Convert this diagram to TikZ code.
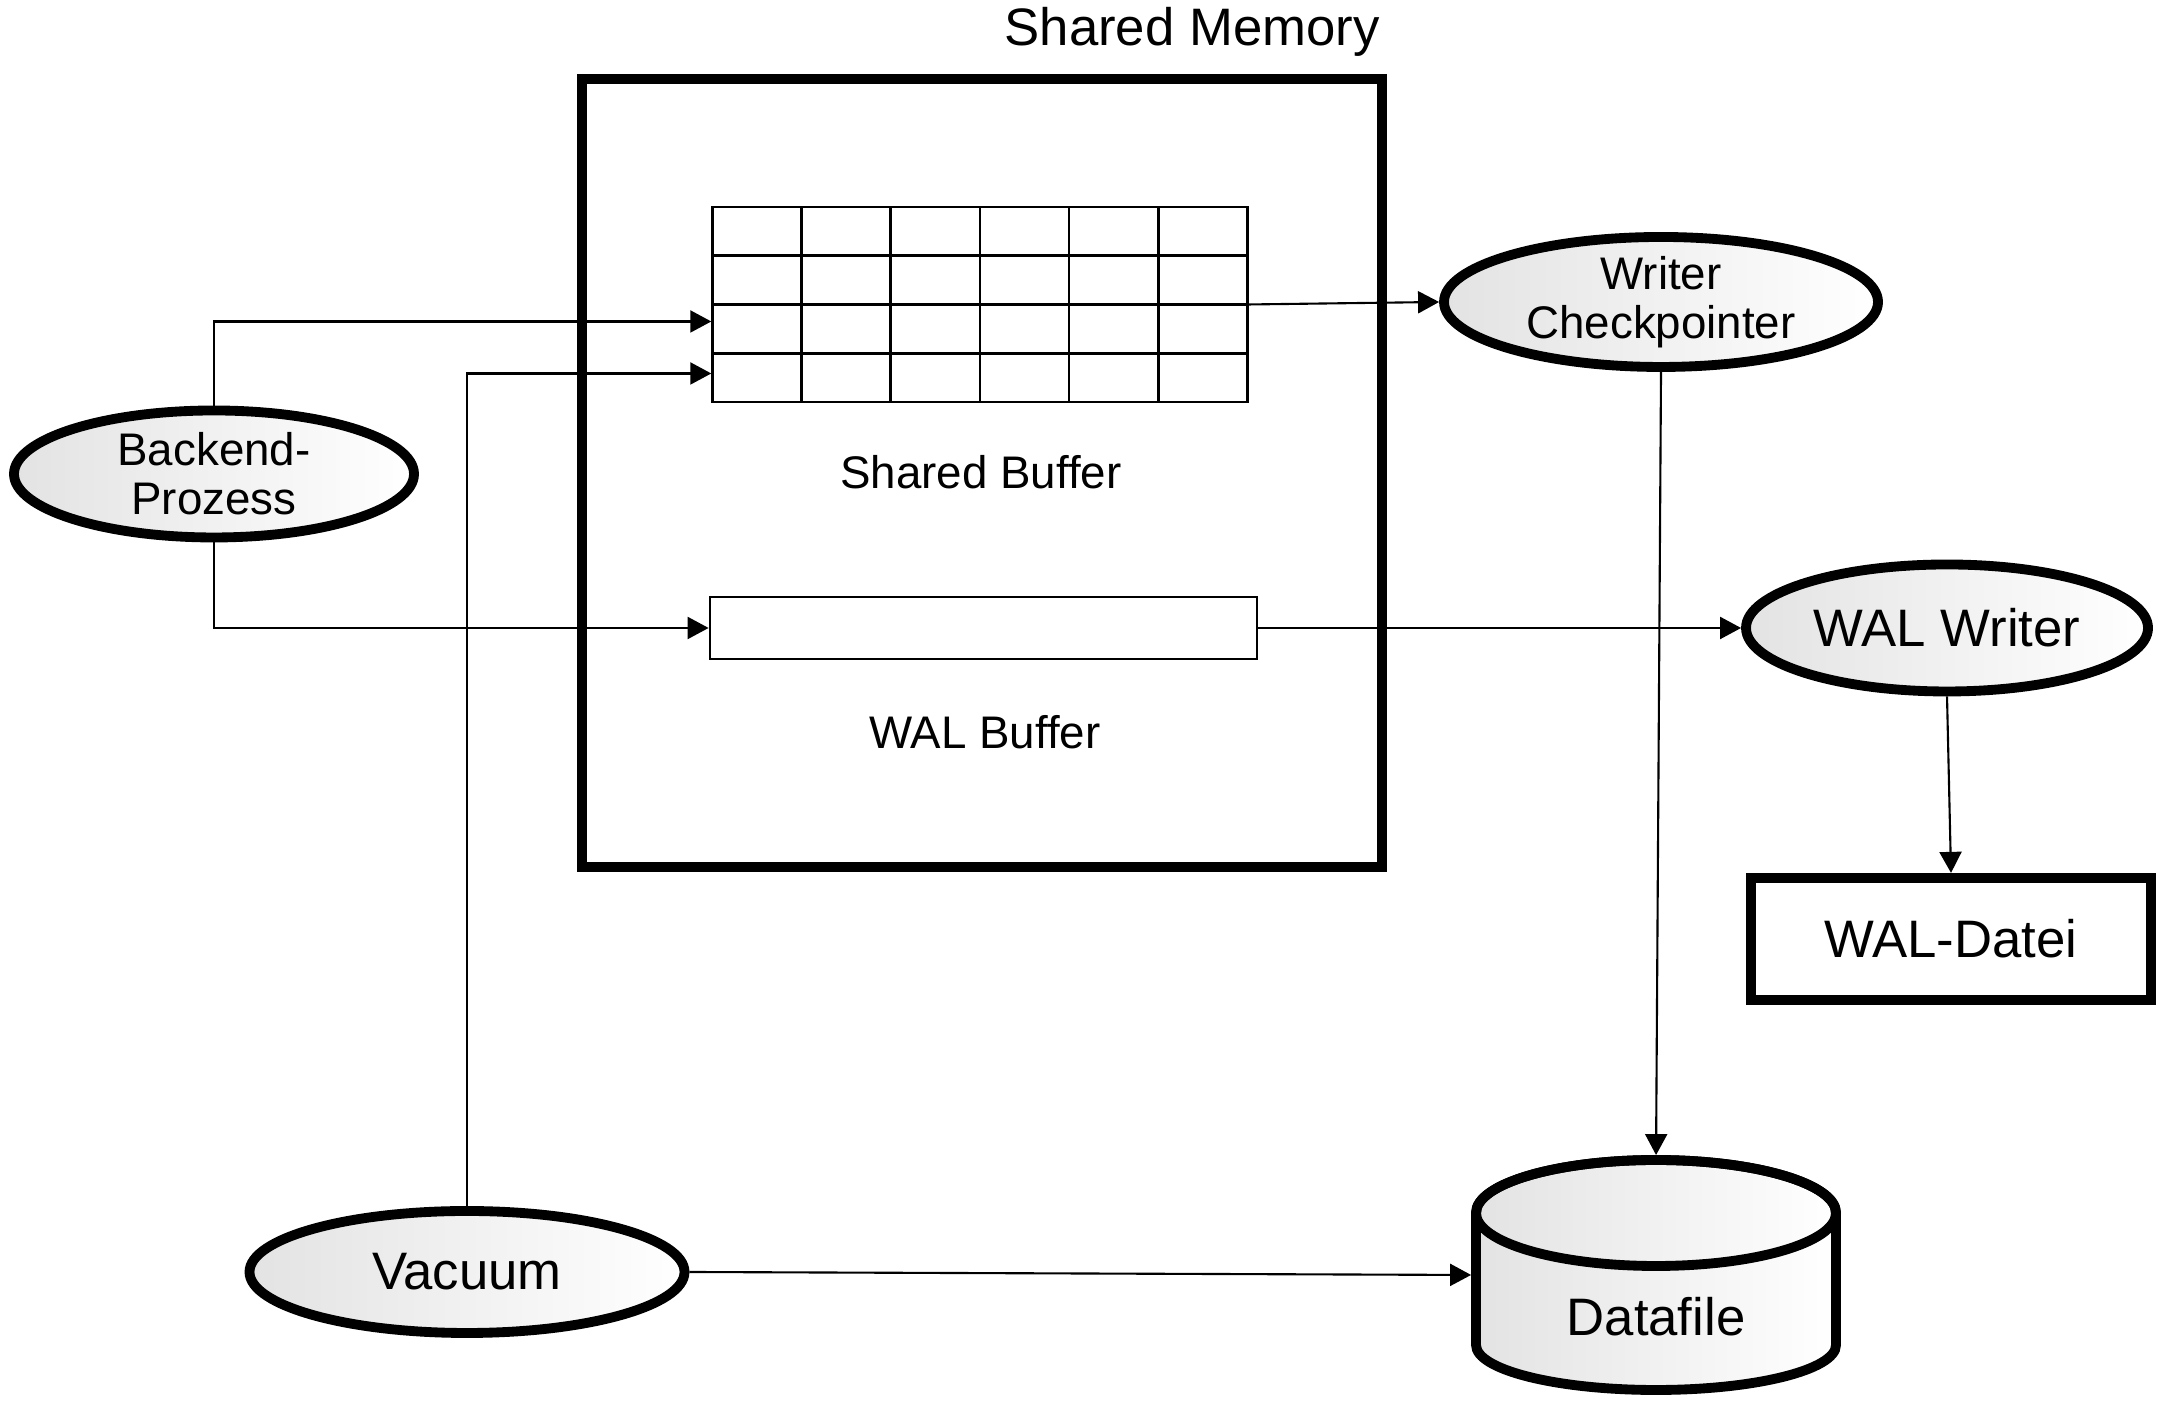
\documentclass[tikz,border=0pt]{standalone}
\usepackage{fontspec}
\setmainfont{Liberation Sans}
\usetikzlibrary{shapes.geometric,arrows.meta}
\begin{document}
\begin{tikzpicture}[
    proc/.style={ellipse, draw, line width=2.8pt, left color=gray!22, right color=white, inner sep=0pt, align=center},
    bigtext/.style={font=\fontsize{15}{17}\selectfont},
    smalltext/.style={font=\fontsize{13}{14}\selectfont},
    flow/.style={-{Triangle[length=2.1mm,width=2.2mm]}, line width=0.6pt}
  ]
  \useasboundingbox (0,0) rectangle (21.6,14.04);
  \draw
    (9.82,9.31) node (shm) [draw, line width=2.9pt, minimum width=8.0cm, minimum height=7.88cm] {}
    (13.92,13.58) node (shmtitle) [anchor=base east, bigtext] {Shared Memory}
    (9.80,10.995) node (sbuf) [draw, line width=0.8pt, minimum width=5.346cm, minimum height=1.95cm] {}
    (9.81,9.32) node (sbuftitle) [smalltext] {Shared Buffer}
    (9.835,7.76) node (walbuf) [draw, line width=0.8pt, minimum width=5.47cm, minimum height=0.62cm] {}
    (9.85,6.72) node (walbuftitle) [smalltext] {WAL Buffer}
    (2.14,9.30) node (backend) [proc, smalltext, minimum width=4.0cm, minimum height=1.27cm] {Backend-\\Prozess}
    (16.61,11.02) node (writer) [proc, smalltext, minimum width=4.34cm, minimum height=1.30cm] {Writer\\Checkpointer}
    (19.47,7.76) node (walwriter) [proc, bigtext, minimum width=4.02cm, minimum height=1.27cm] {WAL Writer}
    (19.51,4.65) node (walfile) [draw, line width=2.9pt, bigtext, minimum width=4.0cm, minimum height=1.22cm] {WAL-Datei}
    (4.67,1.32) node (vacuum) [proc, bigtext, minimum width=4.35cm, minimum height=1.22cm] {Vacuum}
    (16.56,1.29) node (datafile) [inner sep=0pt, outer sep=0pt, minimum width=3.6cm, minimum height=2.30cm] {};
  % the datafile drum
  \path[draw, line width=2.8pt, left color=gray!22, right color=white]
    ([yshift=-0.53cm]datafile.north west) -- ([yshift=0.45cm]datafile.south west)
    arc[start angle=180, end angle=360, x radius=1.8cm, y radius=0.45cm]
    -- ([yshift=-0.53cm]datafile.north east)
    arc[start angle=0, end angle=180, x radius=1.8cm, y radius=0.53cm] -- cycle;
  \draw[line width=2.8pt] ([yshift=-0.53cm]datafile.north) ellipse [x radius=1.8cm, y radius=0.53cm];
  \node (datafiletitle) [bigtext] at (16.56,0.87) {Datafile};
  % cells of the shared buffer
  \begin{scope}[line width=0.8pt]
    \draw (8.017,11.97) -- (8.017,10.02);
    \draw (8.908,11.97) -- (8.908,10.02);
    \draw (9.799,11.97) -- (9.799,10.02);
    \draw (10.690,11.97) -- (10.690,10.02);
    \draw (11.581,11.97) -- (11.581,10.02);
    \draw (7.126,10.5075) -- (12.473,10.5075);
    \draw (7.126,10.995) -- (12.473,10.995);
    \draw (7.126,11.4825) -- (12.473,11.4825);
  \end{scope}
  \begin{scope}[flow]
    \draw (backend.north) |- ([yshift=-0.17cm]sbuf.west);
    \draw (vacuum.north) |- ([yshift=-0.69cm]sbuf.west);
    \draw (backend.south) |- (walbuf.west);
    \draw (sbuf.east) -- (writer.west);
    \draw (walbuf.east) -- (walwriter.west);
    \draw[shorten >=1.4pt] (writer.south) -- (datafile.north);
    \draw (walwriter.south) -- (walfile.north);
    \draw[shorten >=1.4pt] (vacuum.east) -- (datafile.west);
  \end{scope}
\end{tikzpicture}
\end{document}
